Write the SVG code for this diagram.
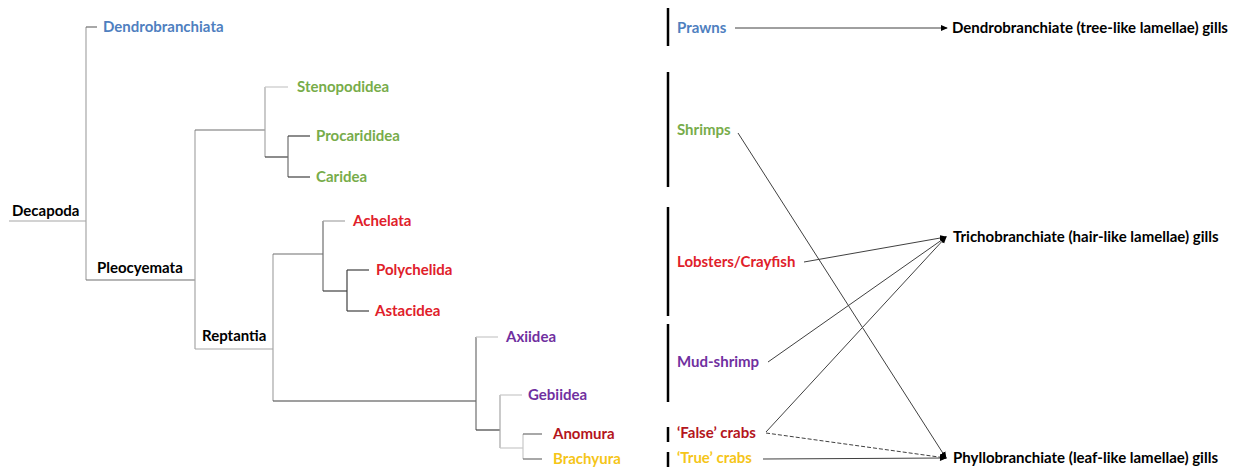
<svg xmlns="http://www.w3.org/2000/svg" width="1250" height="470" viewBox="0 0 1250 470">
<defs>
<style>
text{font-family:Lato,"Liberation Sans",sans-serif;font-weight:700;font-size:15px}
.k{fill:#000}.b{fill:#4F7FBF}.g{fill:#77AC4A}.r{fill:#E0202A}.dr{fill:#B4151C}.p{fill:#7030A0}.y{fill:#F5C518}
.t{stroke-width:1.2;fill:none}
.l1{stroke:#404040}.l2{stroke:#6E6E6E}.l3{stroke:#A6A6A6}.l4{stroke:#C8C8C8}
.bar{stroke:#000;stroke-width:2.5}
.c{stroke:#404040;stroke-width:1;fill:none}
</style>
<marker id="ah" viewBox="0 0 8 8" refX="7" refY="4" markerWidth="7" markerHeight="7" markerUnits="userSpaceOnUse" orient="auto">
<path d="M0,0.5 L8,4 L0,7.5 Z" fill="#000"/>
</marker>
</defs>
<rect width="1250" height="470" fill="#fff"/>
<g id="tree" class="t">
<line class="l3" x1="9" y1="221" x2="86" y2="221"/>
<line class="l3" x1="86" y1="27" x2="86" y2="280"/>
<line class="l2" x1="86" y1="27" x2="97" y2="27"/>
<line class="l2" x1="86" y1="280" x2="195" y2="280"/>
<line class="l3" x1="195" y1="130" x2="195" y2="349"/>
<line class="l2" x1="195" y1="130" x2="265" y2="130"/>
<line class="l3" x1="265" y1="87" x2="265" y2="157"/>
<line class="l4" x1="265" y1="87" x2="288" y2="87"/>
<line class="l1" x1="265" y1="157" x2="288" y2="157"/>
<line class="l2" x1="288" y1="136" x2="288" y2="177"/>
<line class="l1" x1="288" y1="136" x2="310" y2="136"/>
<line class="l1" x1="288" y1="177" x2="310" y2="177"/>
<line class="l3" x1="195" y1="349" x2="273" y2="349"/>
<line class="l3" x1="273" y1="254" x2="273" y2="401"/>
<line class="l2" x1="273" y1="254" x2="323" y2="254"/>
<line class="l2" x1="323" y1="221" x2="323" y2="291"/>
<line class="l3" x1="323" y1="221" x2="345" y2="221"/>
<line class="l1" x1="323" y1="291" x2="347" y2="291"/>
<line class="l1" x1="347" y1="270" x2="347" y2="311"/>
<line class="l1" x1="347" y1="270" x2="369" y2="270"/>
<line class="l1" x1="347" y1="311" x2="369" y2="311"/>
<line class="l1" x1="273" y1="401" x2="476" y2="401"/>
<line class="l2" x1="476" y1="337" x2="476" y2="430"/>
<line class="l4" x1="476" y1="337" x2="498" y2="337"/>
<line class="l1" x1="476" y1="430" x2="500" y2="430"/>
<line class="l3" x1="500" y1="395" x2="500" y2="448"/>
<line class="l4" x1="500" y1="395" x2="522" y2="395"/>
<line class="l4" x1="500" y1="448" x2="523" y2="448"/>
<line class="l4" x1="523" y1="434" x2="523" y2="459"/>
<line class="l2" x1="523" y1="434" x2="542" y2="434"/>
<line class="l2" x1="523" y1="459" x2="542" y2="459"/>
</g>
<g id="n-decapoda"><text class="k" x="12" y="216">Decapoda</text></g>
<g id="n-dendrobranchiata"><text class="b" x="103" y="32">Dendrobranchiata</text></g>
<g id="n-pleocyemata"><text class="k" x="97" y="273">Pleocyemata</text></g>
<g id="n-stenopodidea"><text class="g" x="297" y="92">Stenopodidea</text></g>
<g id="n-procarididea"><text class="g" x="316" y="141">Procarididea</text></g>
<g id="n-caridea"><text class="g" x="316" y="182">Caridea</text></g>
<g id="n-reptantia"><text class="k" x="202" y="341">Reptantia</text></g>
<g id="n-achelata"><text class="r" x="353" y="226">Achelata</text></g>
<g id="n-polychelida"><text class="r" x="376" y="275">Polychelida</text></g>
<g id="n-astacidea"><text class="r" x="375" y="316">Astacidea</text></g>
<g id="n-axiidea"><text class="p" x="506" y="342">Axiidea</text></g>
<g id="n-gebiidea"><text class="p" x="528" y="400">Gebiidea</text></g>
<g id="n-anomura"><text class="dr" x="553" y="439">Anomura</text></g>
<g id="n-brachyura"><text class="y" x="553" y="464">Brachyura</text></g>
<g id="n-prawns"><line class="bar" x1="668" y1="8" x2="668" y2="46"/><text class="b" x="677" y="33">Prawns</text></g>
<g id="n-shrimps"><line class="bar" x1="668" y1="72" x2="668" y2="187"/><text class="g" x="677" y="135">Shrimps</text></g>
<g id="n-lobsters"><line class="bar" x1="668" y1="207" x2="668" y2="316"/><text class="r" x="677" y="267">Lobsters/Crayfish</text></g>
<g id="n-mudshrimp"><line class="bar" x1="668" y1="324" x2="668" y2="402"/><text class="p" x="677" y="367">Mud-shrimp</text></g>
<g id="n-falsecrabs"><line class="bar" x1="668" y1="427" x2="668" y2="442"/><text class="dr" x="677" y="438">‘False’ crabs</text></g>
<g id="n-truecrabs"><line class="bar" x1="668" y1="452" x2="668" y2="467"/><text class="y" x="677" y="463">‘True’ crabs</text></g>
<g id="n-dendro-gills"><text class="k" x="952" y="33">Dendrobranchiate (tree-like lamellae) gills</text></g>
<g id="n-tricho-gills"><text class="k" x="953" y="242">Trichobranchiate (hair-like lamellae) gills</text></g>
<g id="n-phyllo-gills"><text class="k" x="953" y="463">Phyllobranchiate (leaf-like lamellae) gills</text></g>
<g id="connectors">
<line class="c" x1="735" y1="28" x2="947" y2="28" marker-end="url(#ah)"/>
<line class="c" x1="738" y1="133" x2="946" y2="458" marker-end="url(#ah)"/>
<line class="c" x1="804" y1="262" x2="946" y2="237" marker-end="url(#ah)"/>
<line class="c" x1="768" y1="362" x2="946" y2="237" marker-end="url(#ah)"/>
<line class="c" x1="766" y1="432" x2="946" y2="237" marker-end="url(#ah)"/>
<line class="c" x1="766" y1="433" x2="946" y2="458" stroke-dasharray="4 2" marker-end="url(#ah)"/>
<line class="c" x1="763" y1="459" x2="946" y2="458" marker-end="url(#ah)"/>
</g>
</svg>
